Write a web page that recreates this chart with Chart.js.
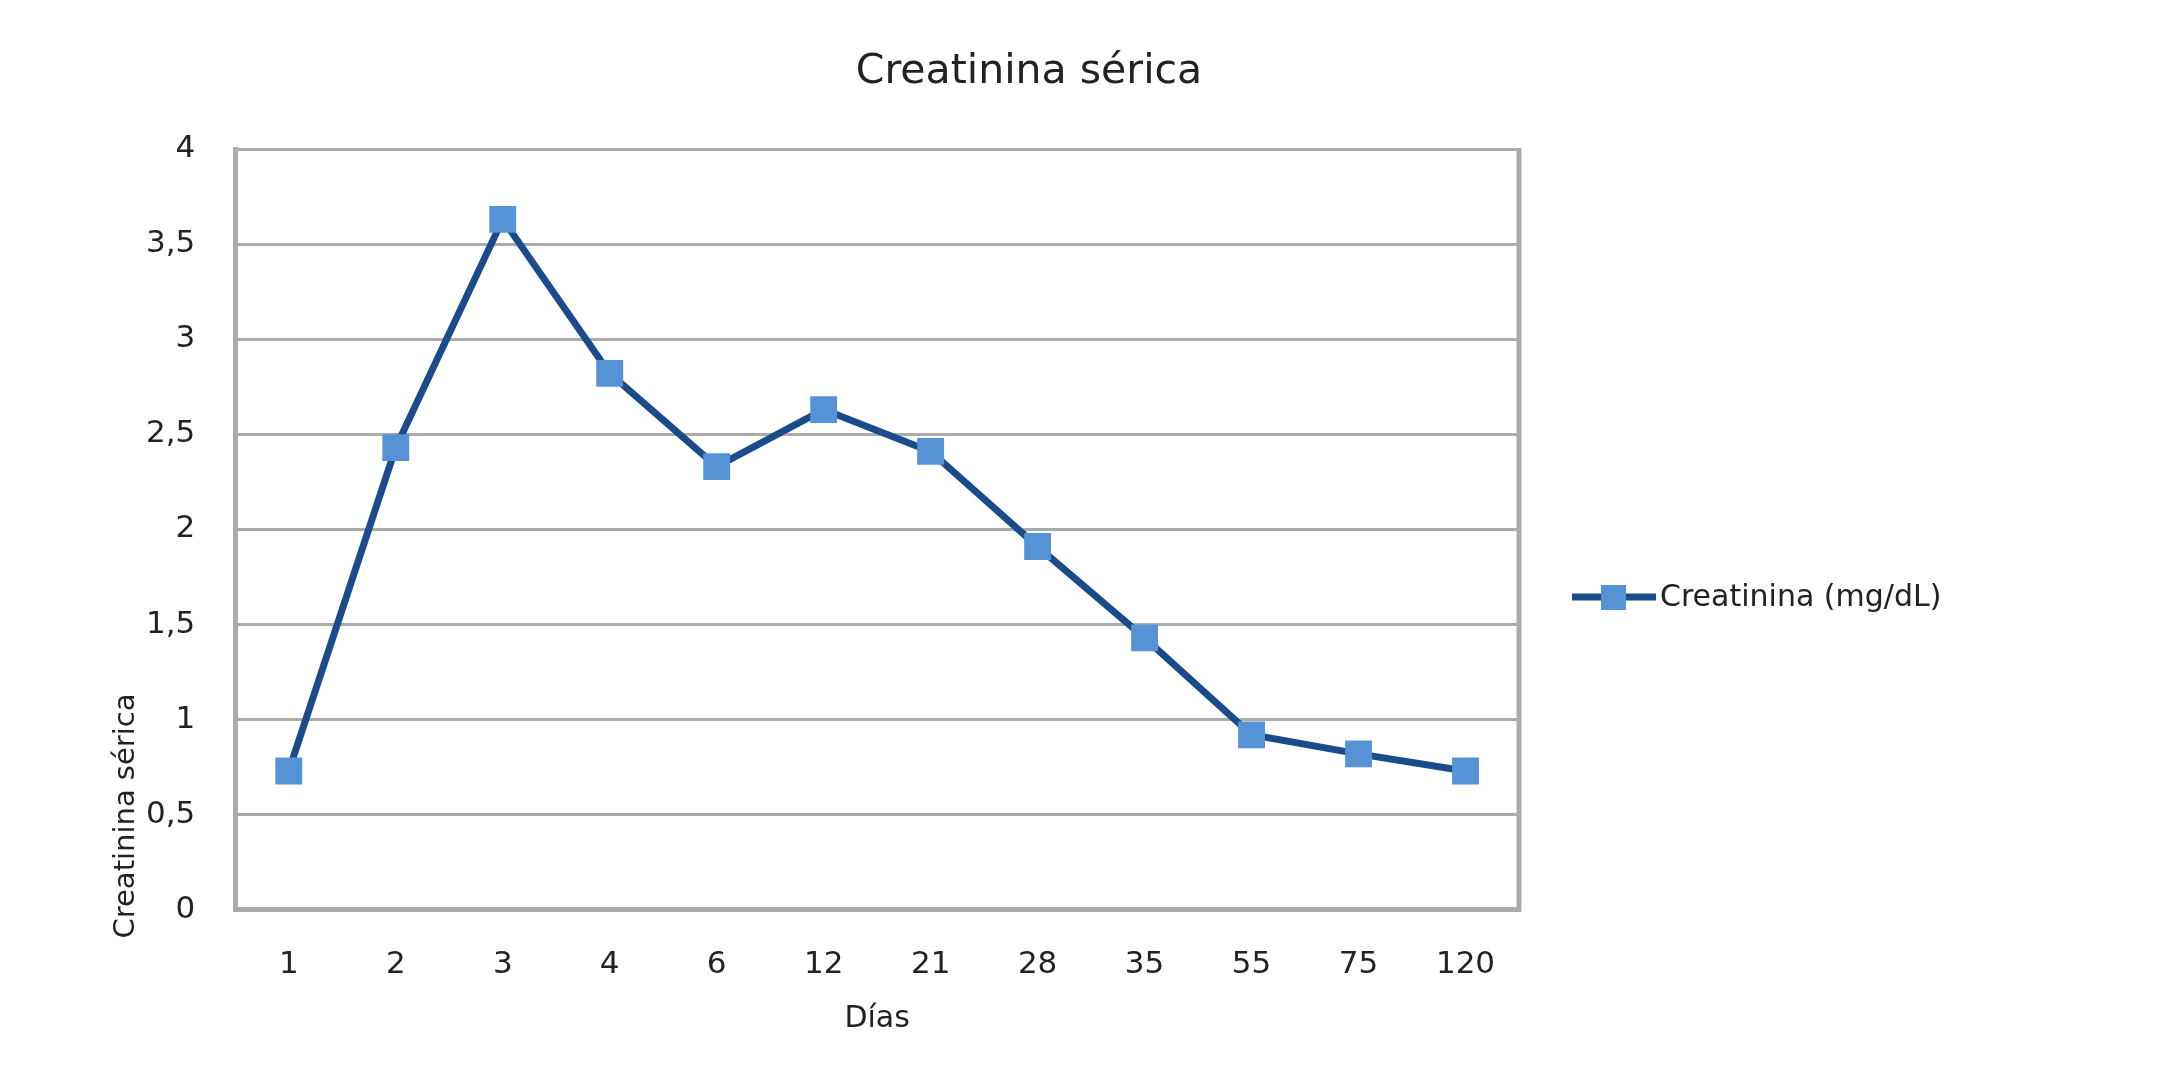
<!DOCTYPE html>
<html>
<head>
<meta charset="utf-8">
<script src="https://cdn.jsdelivr.net/npm/chart.js@4"></script>
<style>
  html, body { margin: 0; padding: 0; background: #fff; }
  #wrap { width: 2163px; height: 1073px; }
</style>
</head>
<body>
<div id="wrap"><canvas id="chart" width="2163" height="1073"></canvas></div>
<script>
const dias = ['1', '2', '3', '4', '6', '12', '21', '28', '35', '55', '75', '120'];
const creatinina = [0.73, 2.43, 3.63, 2.82, 2.33, 2.63, 2.41, 1.91, 1.43, 0.92, 0.82, 0.73];
const serieNombre = 'Creatinina (mg/dL)';
const titulo = 'Creatinina sérica';
const tituloY = 'Creatinina sérica';
const tituloX = 'Días';
const yMin = 0;
const yMax = 4;
const yStep = 0.5;

const lineColor = '#1a4c8b';
const markerColor = '#5592d6';
const gridColor = '#ababab';
const textColor = '#222';
const fontFamily = '"DejaVu Sans", Verdana, sans-serif';

// Excel-style extras: chart title (centred on the whole picture), y title
// sitting low on the axis, right border of the plot area and the legend
const excelBits = {
  id: 'excelBits',
  afterDraw(chart) {
    const { ctx, chartArea } = chart;
    ctx.save();

    ctx.strokeStyle = gridColor;
    ctx.lineWidth = 5;
    ctx.beginPath();
    ctx.moveTo(chartArea.right, chartArea.top - 1);
    ctx.lineTo(chartArea.right, chartArea.bottom + 2);
    ctx.stroke();

    ctx.fillStyle = textColor;
    ctx.textBaseline = 'middle';
    ctx.textAlign = 'center';
    ctx.font = '41px ' + fontFamily;
    ctx.fillText(titulo, 1029, 72);

    ctx.save();
    ctx.translate(126, 816);
    ctx.rotate(-Math.PI / 2);
    ctx.font = '29px ' + fontFamily;
    ctx.fillText(tituloY, 0, 0);
    ctx.restore();

    // legend entry
    const lx = 1572, ly = 597;
    ctx.strokeStyle = lineColor;
    ctx.lineWidth = 7;
    ctx.beginPath();
    ctx.moveTo(lx, ly);
    ctx.lineTo(lx + 84, ly);
    ctx.stroke();
    ctx.fillStyle = markerColor;
    ctx.fillRect(lx + 29, ly - 12, 25, 25);
    ctx.fillStyle = textColor;
    ctx.font = '30px ' + fontFamily;
    ctx.textAlign = 'left';
    ctx.fillText(serieNombre, lx + 88, ly + 1);
    ctx.restore();
  }
};

new Chart(document.getElementById('chart').getContext('2d'), {
  type: 'line',
  data: {
    labels: dias,
    datasets: [{
      label: serieNombre,
      data: creatinina,
      borderColor: lineColor,
      borderWidth: 7,
      pointStyle: 'rect',
      pointRadius: 19,
      pointHoverRadius: 19,
      pointBackgroundColor: markerColor,
      pointBorderColor: markerColor,
      pointBorderWidth: 0,
      tension: 0
    }]
  },
  options: {
    responsive: false,
    animation: false,
    layout: { padding: { left: 106, right: 644, top: 149, bottom: 0 } },
    plugins: {
      legend: { display: false },
      tooltip: { enabled: false },
      title: { display: false }
    },
    scales: {
      x: {
        offset: true,
        grid: { display: false, drawTicks: false },
        border: { display: true, color: gridColor, width: 5 },
        ticks: {
          color: textColor,
          padding: 37,
          font: { family: fontFamily, size: 31 }
        },
        title: {
          display: true,
          text: tituloX,
          color: textColor,
          font: { family: fontFamily, size: 30 },
          padding: { top: -20, bottom: 36 }
        }
      },
      y: {
        min: yMin,
        max: yMax,
        grid: { color: gridColor, lineWidth: 3, drawTicks: false },
        border: { display: true, color: gridColor, width: 5 },
        ticks: {
          stepSize: yStep,
          color: textColor,
          padding: 40,
          font: { family: fontFamily, size: 31 },
          callback: v => String(v).replace('.', ',')
        }
      }
    }
  },
  plugins: [excelBits]
});
</script>
</body>
</html>
